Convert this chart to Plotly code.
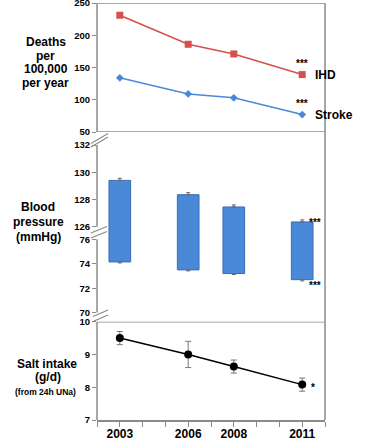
import plotly.graph_objects as go

# ---------------- data ----------------
years = [2003, 2006, 2008, 2011]
ihd_deaths = [231, 186, 171, 139]
stroke_deaths = [134, 109, 103, 77]
systolic = [129.4, 128.35, 127.45, 126.35]
systolic_err = [0.15, 0.15, 0.15, 0.15]
diastolic = [74.15, 73.5, 73.2, 72.7]
diastolic_err = [0.08, 0.08, 0.08, 0.1]
salt = [9.5, 9.0, 8.63, 8.08]
salt_err = [0.2, 0.4, 0.2, 0.2]
tick_years = list(range(2002, 2013))
tick_year_labels = [str(y) if y in years else "" for y in tick_years]
deaths_ticks = [50, 100, 150, 200, 250]
sys_ticks = [126, 128, 130, 132]
dia_ticks = [70, 72, 74, 76]
salt_ticks = [7, 8, 9, 10]

# ---------------- styling ----------------
FONT = "Liberation Sans, Arial, sans-serif"
GRAY = "#8a8a8a"
RED = "#d4504c"
BLUE = "#4a88d8"
BAR_EDGE = "#3a6cb8"

W, H = 375, 443
L, R, T, B = 97, 50, 3, 23
PW, PH = W - L - R, H - T - B


def xf(px):
    return (px - L) / PW


def yf(py):
    return (H - B - py) / PH


fig = go.Figure()

fig.add_trace(go.Scatter(x=years, y=ihd_deaths, mode="lines+markers", xaxis="x", yaxis="y",
                         line=dict(color=RED, width=1.5),
                         marker=dict(symbol="square", size=7, color=RED)))
fig.add_trace(go.Scatter(x=years, y=stroke_deaths, mode="lines+markers", xaxis="x", yaxis="y",
                         line=dict(color=BLUE, width=1.5),
                         marker=dict(symbol="diamond", size=6, color=BLUE)))

bp_span = [s - d for s, d in zip(systolic, diastolic)]
for ax in ["y2", "y3"]:
    fig.add_trace(go.Bar(x=years, y=bp_span, base=diastolic, xaxis="x", yaxis=ax, width=0.95,
                         marker=dict(color=BLUE, line=dict(color=BAR_EDGE, width=1))))

fig.add_trace(go.Scatter(x=years, y=systolic, mode="markers", xaxis="x", yaxis="y2",
                         marker=dict(size=1, opacity=0),
                         error_y=dict(type="data", array=systolic_err, arrayminus=[0] * 4,
                                      color="#666666", thickness=1, width=2)))
fig.add_trace(go.Scatter(x=years, y=diastolic, mode="markers", xaxis="x", yaxis="y3",
                         marker=dict(size=1, opacity=0),
                         error_y=dict(type="data", array=[0] * 4, arrayminus=diastolic_err,
                                      color="#666666", thickness=1, width=2)))

fig.add_trace(go.Scatter(x=years, y=salt, mode="lines+markers", xaxis="x", yaxis="y4",
                         line=dict(color="black", width=1.5),
                         marker=dict(symbol="circle", size=8, color="black"),
                         error_y=dict(type="data", array=salt_err, color="#777777",
                                      thickness=1, width=3)))

yax_common = dict(anchor="x", ticks="outside", ticklen=4, tickcolor=GRAY, tickwidth=1,
                  showline=False, showgrid=False, zeroline=False, ticklabeloverflow="allow",
                  tickfont=dict(family=FONT, size=9.5, color="black", weight="bold"))

# break joins slightly overlapping so the bars run continuously through the break
SYS_PX = (132 - 126) / (226.7 - 145)
DIA_PX = (76 - 70) / (312.7 - 239.3)
sys_low = 132 - (234 - 145) * SYS_PX
dia_high = 76 + (239.3 - 232) * DIA_PX

fig.update_layout(
    width=W, height=H,
    margin=dict(l=L, r=R, t=T, b=B, autoexpand=False),
    paper_bgcolor="white", plot_bgcolor="white",
    showlegend=False,
    xaxis=dict(domain=[0, 1], range=[2002, 2012], anchor="y4",
               tickmode="array", tickvals=tick_years, ticktext=tick_year_labels,
               ticks="outside", ticklen=5, tickcolor=GRAY, showline=True,
               linecolor=GRAY, linewidth=1.5, showgrid=False, zeroline=False,
               ticklabelstandoff=-3,
               tickfont=dict(family=FONT, size=12, color="black", weight="bold")),
    yaxis=dict(domain=[yf(132), yf(3)], range=[50, 250], tickvals=deaths_ticks, **yax_common),
    yaxis2=dict(domain=[yf(234), yf(145)], range=[sys_low, 132], tickvals=sys_ticks, **yax_common),
    yaxis3=dict(domain=[yf(312.7), yf(232)], range=[70, dia_high], tickvals=dia_ticks, **yax_common),
    yaxis4=dict(domain=[0, yf(321.7)], range=[7, 10], tickvals=salt_ticks, **yax_common),
)

shapes = []
ln = dict(color=GRAY, width=1.5)
# frame
shapes.append(dict(type="line", xref="paper", yref="y", x0=0, x1=1, y0=250, y1=250, line=ln))
shapes.append(dict(type="line", xref="paper", yref="y", x0=0, x1=1, y0=50, y1=50, line=ln))
shapes.append(dict(type="line", xref="paper", yref="y4", x0=0, x1=1, y0=10, y1=10, line=ln))
shapes.append(dict(type="line", xref="paper", yref="paper", x0=1, x1=1, y0=0, y1=yf(3), line=ln))
# left axis segments
shapes.append(dict(type="line", xref="paper", yref="y", x0=0, x1=0, y0=50, y1=250, line=ln))
shapes.append(dict(type="line", xref="paper", yref="y2", x0=0, x1=0, y0=126, y1=132, line=ln))
shapes.append(dict(type="line", xref="paper", yref="y3", x0=0, x1=0, y0=70, y1=76, line=ln))
shapes.append(dict(type="line", xref="paper", yref="y4", x0=0, x1=0, y0=7, y1=10, line=ln))
# axis break marks
bl = dict(color=GRAY, width=1.2)
for (px0, py0, px1, py1) in [(91, 143.5, 108, 133.5), (91, 147, 108, 137),
                             (91, 233, 107, 226.5), (91, 238, 107, 231.5),
                             (93, 316.5, 108, 310), (93, 321.5, 108, 315)]:
    shapes.append(dict(type="line", xref="paper", yref="paper",
                       x0=xf(px0), x1=xf(px1), y0=yf(py0), y1=yf(py1), line=bl))
fig.update_layout(shapes=shapes)

ann = []


def label(text, cx, cy, size=12):
    ann.append(dict(text=text, xref="paper", yref="paper", x=xf(cx), y=yf(cy),
                    xanchor="center", yanchor="middle", showarrow=False,
                    font=dict(family=FONT, size=size, color="black", weight="bold")))


for t, cy in zip(["Deaths", "per", "100,000", "per year"], [41.7, 55.7, 69.3, 83.3]):
    label(t, 45.5, cy)
for t, cy in zip(["Blood", "pressure", "(mmHg)"], [207, 221.5, 236.5]):
    label(t, 38.3, cy)
label("Salt intake", 46.5, 364)
label("(g/d)", 48, 377)
label("(from 24h UNa)", 45.8, 392, size=8.5)


def note(text, x, y, yref, xshift=0, yshift=0, size=10, xanchor="center"):
    ann.append(dict(text=text, xref="x", yref=yref, x=x, y=y, xshift=xshift, yshift=yshift,
                    xanchor=xanchor, yanchor="middle", showarrow=False,
                    font=dict(family=FONT, size=size, color="black", weight="bold")))


note("IHD", years[-1], ihd_deaths[-1], "y", xshift=11, xanchor="left", size=12)
note("Stroke", years[-1], stroke_deaths[-1], "y", xshift=11, xanchor="left", size=12)
note("***", years[-1], ihd_deaths[-1], "y", yshift=11)
note("***", years[-1], stroke_deaths[-1], "y", yshift=11)
note("***", years[-1], systolic[-1], "y2", xshift=5, xanchor="left", yshift=-1)
note("***", years[-1], diastolic[-1], "y3", xshift=5, xanchor="left", yshift=-6)
note("*", years[-1], salt[-1], "y4", xshift=7, xanchor="left", yshift=-3)
fig.update_layout(annotations=ann)

fig.write_html("out.html",
               config={"displayModeBar": False},
               post_script="document.body.style.margin='0px';document.body.style.overflow='hidden';")
